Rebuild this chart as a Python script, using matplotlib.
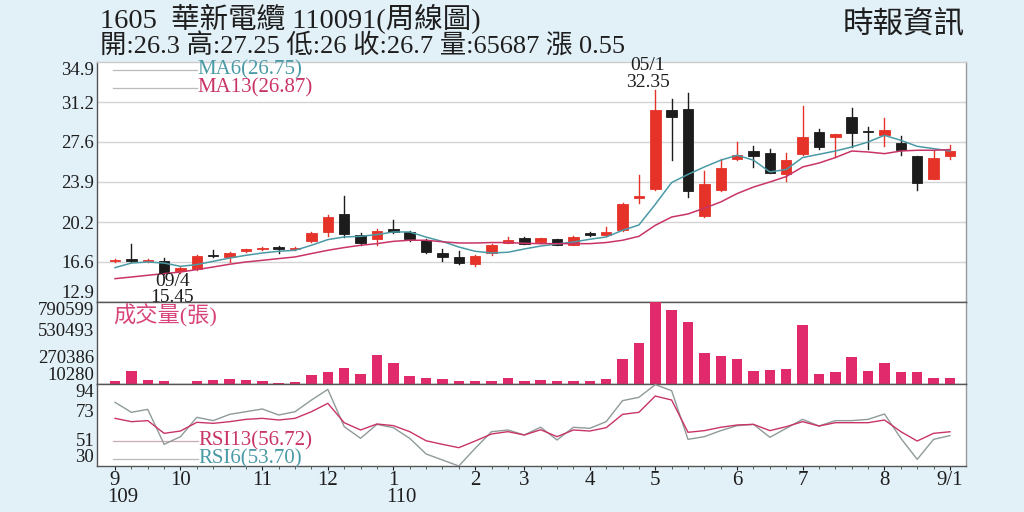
import matplotlib
matplotlib.use('Agg')
import matplotlib.pyplot as plt
from matplotlib.patches import Rectangle
import numpy as np

plt.rcParams['font.family'] = ['Liberation Serif', 'Noto Sans CJK TC']

# ---------------- data ----------------
opens  = [16.65,16.75,16.65,16.7,15.7,15.9,17.15,17.0,17.6,17.75,17.9,17.75,18.5,19.3,21.0,19.0,18.65,19.6,19.3,18.6,
          17.4,17.0,16.4,17.4,18.35,18.8,18.4,18.65,18.15,19.2,19.0,19.5,22.4,23.3,30.5,30.6,20.75,23.15,26.05,26.7,
          26.55,24.6,26.45,28.45,28.05,29.85,28.6,28.25,27.5,26.3,24.2,26.3]
highs  = [16.85,18.25,16.85,16.9,16.1,17.2,17.7,17.5,17.8,17.95,18.0,17.9,19.3,20.9,22.6,19.2,19.55,20.45,19.4,18.7,
          17.8,17.6,17.2,18.2,18.85,18.9,18.8,18.7,18.95,19.3,19.8,22.0,24.5,32.35,31.5,32.1,24.9,26.05,27.55,27.2,
          26.95,26.55,30.9,28.8,28.3,30.7,28.95,29.8,28.1,26.3,26.75,27.25]
lows   = [16.55,16.6,16.55,15.45,15.6,15.85,17.0,16.6,17.5,17.65,17.4,17.7,18.4,18.95,18.85,18.1,18.1,19.2,18.45,17.35,
          16.7,16.4,16.2,17.2,18.3,18.2,18.3,18.1,18.1,18.95,18.95,19.4,21.95,23.2,25.95,22.5,20.7,23.1,25.9,25.3,
          24.7,24.0,26.4,26.9,26.15,27.1,26.95,27.2,26.35,23.2,24.15,26.0]
closes = [16.7,16.7,16.7,15.6,16.0,17.1,17.1,17.4,17.65,17.8,17.75,17.8,19.2,20.7,19.1,18.3,19.4,19.3,18.7,17.5,
          17.0,16.45,17.1,18.1,18.55,18.25,18.75,18.15,18.9,19.0,19.3,21.9,22.6,30.5,29.9,23.1,23.7,25.2,26.35,26.3,
          24.75,25.9,28.05,27.15,28.3,28.35,28.5,28.65,26.8,23.85,26.1,26.7]
ma6  = [16.05,16.47,16.57,16.47,16.17,16.33,16.63,16.93,17.18,17.39,17.55,17.64,18.1,18.62,18.86,18.92,19.08,19.32,19.32,18.85,
        18.45,17.94,17.55,17.39,17.46,17.76,18.03,18.22,18.4,18.65,18.86,19.47,19.96,21.85,23.85,24.6,25.28,25.9,26.35,25.9,
        24.82,25.05,26.14,26.44,26.74,27.11,27.57,28.18,27.72,27.17,26.96,26.75]
ma13 = [15.04,15.19,15.35,15.5,15.65,15.87,16.11,16.36,16.57,16.72,16.88,17.03,17.34,17.64,17.89,18.1,18.25,18.46,18.56,18.56,
        18.42,18.31,18.31,18.35,18.35,18.28,18.25,18.25,18.25,18.25,18.35,18.56,18.92,19.93,20.69,20.97,21.5,22.07,22.84,23.44,
        23.9,24.4,25.28,25.64,26.14,26.74,26.65,26.5,26.74,26.81,26.81,26.87]
volume = [38828,136800,45500,38828,10280,38828,45500,57900,45500,36000,22600,26500,95900,127300,165400,108300,283400,207300,86400,70200,
          57900,41700,41700,41700,70200,41700,43600,38828,41700,38828,57900,245300,397600,790599,714500,603100,302400,276700,245300,134000,
          143500,153000,568900,108300,121600,270100,136800,213000,124500,121600,67400,65687]
rsi6  = [79.7,71.9,74.2,46.9,52.9,68.0,65.4,70.3,72.4,74.5,69.8,72.4,81.5,89.8,60.7,51.6,62.5,59.9,51.6,39.4,
         34.7,30.0,43.8,56.8,58.1,54.2,60.3,50.3,60.2,59.4,64.6,81.0,83.6,93.5,88.8,50.8,52.9,57.6,61.5,62.5,
         52.4,59.4,66.4,61.2,65.4,65.4,66.4,70.6,51.6,35.2,50.8,53.7]
rsi13 = [67.2,64.6,65.4,55.5,57.3,64.1,63.3,64.6,66.4,67.2,65.9,67.2,72.4,78.9,63.8,58.1,62.8,61.5,56.8,49.7,
         46.9,44.3,49.5,55.0,56.8,54.2,58.3,52.9,58.1,57.3,59.9,70.3,71.9,84.6,81.5,56.3,57.6,60.2,62.0,62.5,
         57.6,60.7,64.6,61.2,63.8,63.8,63.8,65.9,56.8,49.5,55.5,56.72]
month_pos = [0, 4, 9, 13, 17, 22, 25, 29, 33, 38, 42, 47, 51]
month_lbl = ['9', '10', '11', '12', '1', '2', '3', '4', '5', '6', '7', '8', '9/1']
year_pos = [0, 17]
year_lbl = ['109', '110']
price_ticks = [12.9, 16.6, 20.2, 23.9, 27.6, 31.2, 34.9]
vol_ticks = [10280, 270386, 530493, 790599]
rsi_ticks = [30, 51, 73, 94]

# ---------------- style ----------------
BG = '#e2f0f8'
RED = '#e5332a'
BLACK = '#1c1c1c'
TEAL = '#4a9aa6'
MAG = '#c93468'
VOLC = '#e02a6c'
GRID = '#d4d4d4'
TXT = '#1e1e1e'
TICKFS = 13.5

fig = plt.figure(figsize=(10.24, 5.12), dpi=100, facecolor=BG)
L, R = 97/1024, 966/1024
def fy(px):
    return 1 - px/512
axp = fig.add_axes([L, fy(302), R-L, fy(62)-fy(302)])
axv = fig.add_axes([L, fy(384), R-L, fy(302)-fy(384)], sharex=axp)
axr = fig.add_axes([L, fy(466), R-L, fy(384)-fy(466)], sharex=axp)

n = len(closes)
x = np.arange(n)
w = 0.64
for ax in (axp, axv, axr):
    ax.set_facecolor('white')
    ax.set_xlim(-1.1, 51.98)
    for s in ax.spines.values():
        s.set_color('#555555')
        s.set_linewidth(1.0)
    ax.spines['right'].set_color('#9a9a9a')
    ax.tick_params(axis='y', length=0, labelsize=TICKFS, pad=2, colors=TXT)
axp.spines['top'].set_color('#cccccc')

# price panel
axp.set_ylim(12.9, 34.9)
axp.set_yticks(price_ticks)
axp.set_yticklabels([f'{t:.1f}' for t in price_ticks])
for t in price_ticks[1:-1]:
    axp.axhline(t, color=GRID, lw=1.0, zorder=0)
for i in range(n):
    o, h, l, c = opens[i], highs[i], lows[i], closes[i]
    col = RED if c >= o else BLACK
    axp.plot([x[i], x[i]], [l, h], color=col, lw=1.0, zorder=2)
    bot = min(o, c)
    hh = max(abs(c - o), 0.12)
    axp.add_patch(Rectangle((x[i]-w/2, bot), w, hh, facecolor=col, edgecolor=col, lw=0.6, zorder=3))
axp.plot(x, ma6, color=TEAL, lw=1.1, zorder=4)
axp.plot(x, ma13, color=MAG, lw=1.1, zorder=4)
axp.plot([-0.12, 5.0], [34.14, 34.14], color='#bbbbbb', lw=0.9, clip_on=False)
axp.plot([-0.12, 5.0], [32.5, 32.5], color='#bbbbbb', lw=0.9, clip_on=False)
axp.text(5.05, 34.14, f'MA6({ma6[-1]:.2f})', color=TEAL, fontsize=15, va='center', ha='left')
axp.text(5.05, 32.5, f'MA13({ma13[-1]:.2f})', color=MAG, fontsize=15, va='center', ha='left')
ih = int(np.argmax(highs)); il = int(np.argmin(lows))
axp.text(ih - 0.45, 34.55, '05/1', fontsize=14, ha='center', va='center', color=TXT, clip_on=False)
axp.text(ih - 0.45, 33.0, f'{highs[ih]:.2f}', fontsize=14, ha='center', va='center', color=TXT, clip_on=False)
axp.text(il + 0.5, 14.8, '09/4', fontsize=14, ha='center', va='center', color=TXT, zorder=6)
axp.text(il + 0.5, 13.3, f'{lows[il]:.2f}', fontsize=14, ha='center', va='center', color=TXT, zorder=6, clip_on=False)

# volume panel
vmin, vmax = vol_ticks[0], vol_ticks[-1]
axv.set_ylim(vmin, vmax)
axv.bar(x, np.array(volume) - vmin, bottom=vmin, width=w, color=VOLC, zorder=3)
axv.set_yticks(vol_ticks)
axv.set_yticklabels([str(v) for v in vol_ticks])
axv.text(-0.12, vmin + 0.83*(vmax - vmin), '成交量(張)', color='#d8457a', fontsize=16, va='center', ha='left')

# RSI panel
axr.set_ylim(30, 94)
axr.set_yticks(rsi_ticks)
axr.set_yticklabels([str(t) for t in rsi_ticks])
axr.plot(x, rsi6, color='#8f9a9a', lw=1.0, zorder=3)
axr.plot(x, rsi13, color=MAG, lw=1.0, zorder=4)
axr.plot([-0.12, 5.05], [49.5, 49.5], color='#c9a9b5', lw=0.9)
axr.plot([-0.12, 5.05], [35.45, 35.45], color='#bbbbbb', lw=0.9)
axr.text(5.1, 49.5, f'RSI13({rsi13[-1]:.2f})', color=MAG, fontsize=15, va='center', ha='left')
axr.text(5.1, 35.45, f'RSI6({rsi6[-1]:.2f})', color=TEAL, fontsize=15, va='center', ha='left')

# nudge edge tick labels inside their panels
for ax in (axp, axv, axr):
    labs = ax.get_yticklabels()
    labs[0].set_verticalalignment('bottom')
    labs[-1].set_verticalalignment('top')

# x axis
for ax in (axp, axv):
    ax.tick_params(axis='x', which='both', bottom=False, labelbottom=False)
axr.set_xticks(month_pos)
axr.set_xticklabels(month_lbl)
axr.set_xticks(x, minor=True)
axr.tick_params(axis='x', which='major', length=3, labelsize=15, pad=0.5, colors=TXT)
axr.tick_params(axis='x', which='minor', length=2.5, colors='#444444')
for p, lb in zip(year_pos, year_lbl):
    axr.text(p - 0.45, -0.385, lb, transform=axr.get_xaxis_transform(), fontsize=15, ha='left', va='center', color=TXT)

# headers
fig.text(100/1024, fy(19), '1605  華新電纜 110091(周線圖)', fontsize=20.5, ha='left', va='center', color=TXT)
fig.text(100/1024, fy(46), '開:26.3 高:27.25 低:26 收:26.7 量:65687 漲 0.55', fontsize=19, ha='left', va='center', color=TXT)
fig.text(965/1024, fy(26), '時報資訊', fontsize=22, ha='right', va='center', color=TXT)

fig.savefig('out.png', dpi=100, facecolor=BG)
